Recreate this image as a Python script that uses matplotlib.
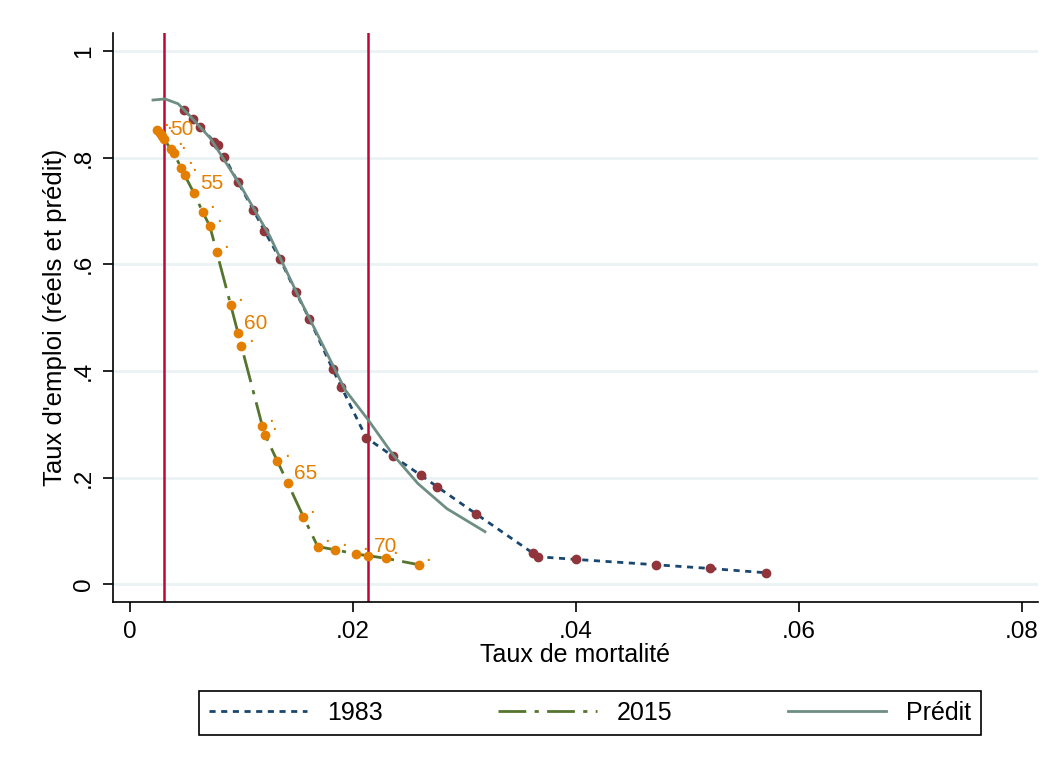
import matplotlib.pyplot as plt
import numpy as np

plt.rcParams['font.family'] = ['Liberation Sans', 'DejaVu Sans']

# 1983 : taux de mortalite / taux d'emploi
mort_1983 = [0.00487, 0.00563, 0.00631, 0.00754, 0.00792, 0.00846, 0.00969, 0.01106,
             0.01205, 0.01346, 0.01487, 0.01609, 0.01819, 0.01896, 0.02120, 0.02362,
             0.02608, 0.02757, 0.03107, 0.03613, 0.03663, 0.04001, 0.04717, 0.05206, 0.05703]
emp_1983 = [0.889, 0.872, 0.858, 0.830, 0.823, 0.801, 0.754, 0.702,
            0.663, 0.610, 0.548, 0.498, 0.403, 0.370, 0.275, 0.240,
            0.205, 0.183, 0.132, 0.059, 0.052, 0.047, 0.037, 0.030, 0.022]

# 2015
ages_2015 = list(range(47, 73))
mort_2015 = [0.00245, 0.00269, 0.00290, 0.00305, 0.00365, 0.00392, 0.00460, 0.00491,
             0.00572, 0.00652, 0.00715, 0.00778, 0.00903, 0.00969, 0.00999, 0.01187,
             0.01211, 0.01322, 0.01415, 0.01555, 0.01684, 0.01842, 0.02030, 0.02135,
             0.02297, 0.02593]
emp_2015 = [0.851, 0.846, 0.840, 0.835, 0.816, 0.809, 0.780, 0.767,
            0.734, 0.698, 0.672, 0.623, 0.524, 0.471, 0.447, 0.297,
            0.281, 0.231, 0.190, 0.127, 0.071, 0.065, 0.057, 0.054,
            0.049, 0.037]

# predit
mort_pred = [0.00206, 0.00314, 0.00431, 0.00538, 0.00718, 0.00987, 0.01256, 0.01525,
             0.01705, 0.01929, 0.02135, 0.02360, 0.02584, 0.02844, 0.03185]
emp_pred = [0.908, 0.910, 0.901, 0.878, 0.837, 0.749, 0.652, 0.534,
            0.459, 0.365, 0.309, 0.243, 0.189, 0.142, 0.099]

xticks = [0, 0.02, 0.04, 0.06, 0.08]
xticklabels = ['0', '.02', '.04', '.06', '.08']
yticks = [0, 0.2, 0.4, 0.6, 0.8, 1]
yticklabels = ['0', '.2', '.4', '.6', '.8', '1']

fig = plt.figure(figsize=(10.5, 7.66), dpi=100)
ax = fig.add_axes([113/1050, 1-602/766, (1038-113)/1050, (602-33)/766])

# lignes verticales aux ages 50 et 70 (2015)
for a in (50, 70):
    ax.axvline(mort_2015[ages_2015.index(a)], color='#c10534', lw=1.8, zorder=1)

ax.plot(mort_1983, emp_1983, color='#1a476f', lw=2, ls=(0, (2.2, 2.0)), label='1983', zorder=3)
ax.plot(mort_1983, emp_1983, 'o', color='#90353b', ms=6, zorder=4)

ax.plot(mort_2015, emp_2015, color='#55752f', lw=2, ls=(0, (10, 3, 1.5, 3)), label='2015', zorder=3)
ax.plot(mort_2015, emp_2015, 'o', color='#e37e00', ms=6, zorder=4)
for a, xv, yv in zip(ages_2015, mort_2015, emp_2015):
    lab = str(a) if a % 5 == 0 else '.'
    ax.annotate(lab, (xv, yv), xytext=(4.5, 3), textcoords='offset points',
                ha='left', va='baseline', color='#e37e00', fontsize=15, zorder=5)

ax.plot(mort_pred, emp_pred, color='#6e8e84', lw=2, label='Prédit', zorder=5)

ax.set_xlim(-0.00153, 0.08147)
ax.set_ylim(-0.0328, 1.0336)
ax.set_xticks(xticks)
ax.set_xticklabels(xticklabels)
ax.set_yticks(yticks)
ax.set_yticklabels(yticklabels, rotation=90, va='center')
ax.tick_params(axis='both', length=7, width=1.2, labelsize=17.5)
ax.tick_params(axis='x', pad=7)
ax.tick_params(axis='y', pad=6)
ax.grid(axis='y', color='#eaf2f3', lw=2, zorder=0)
ax.set_axisbelow(True)
ax.spines['top'].set_visible(False)
ax.spines['right'].set_visible(False)
ax.spines['left'].set_linewidth(1.2)
ax.spines['bottom'].set_linewidth(1.2)
ax.set_xlabel('Taux de mortalité', fontsize=18, labelpad=0)
ax.set_ylabel("Taux d'emploi (réels et prédit)", fontsize=18.5, labelpad=4)

leg = fig.legend(loc='center', bbox_to_anchor=(590/1050, 1-713/766), ncol=3,
                 fontsize=18, handlelength=3.95, columnspacing=4.6, fancybox=False,
                 edgecolor='black', framealpha=1, borderpad=0.4, handletextpad=0.8)
leg.get_frame().set_linewidth(1.2)

fig.savefig('out.png', dpi=100, facecolor='white')
